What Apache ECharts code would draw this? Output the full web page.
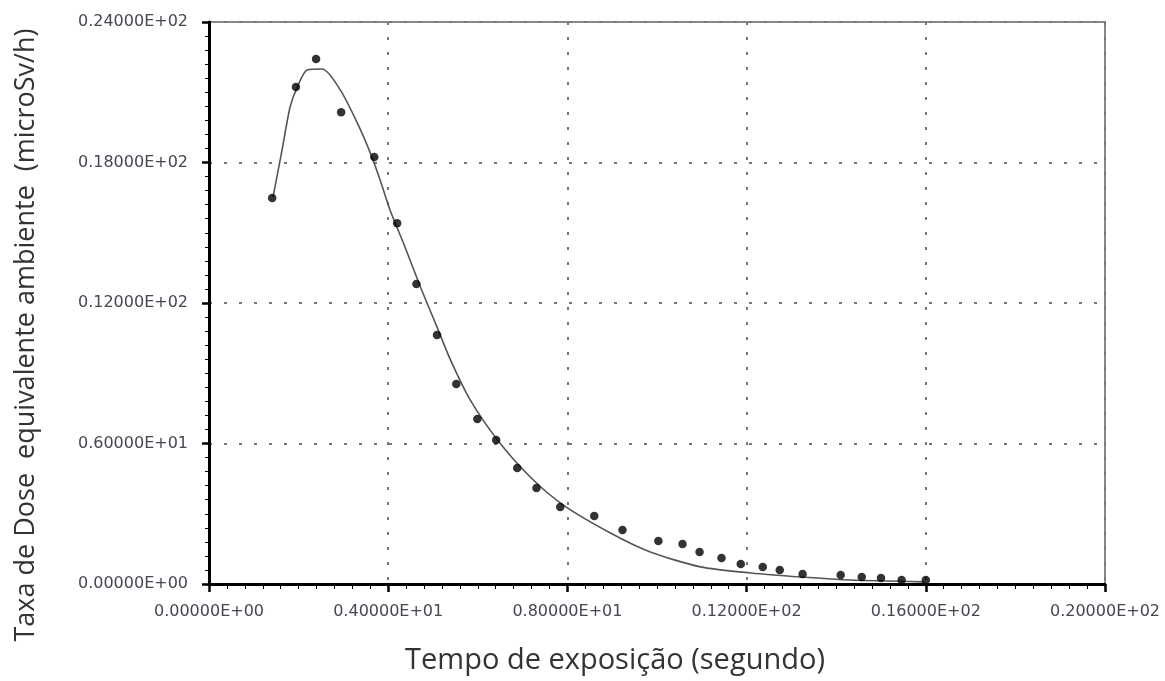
<!DOCTYPE html>
<html>
<head>
<meta charset="utf-8">
<script src="https://cdn.jsdelivr.net/npm/echarts@6/dist/echarts.min.js"></script>
<style>
  html, body { margin: 0; padding: 0; background: #fff; }
  #chart { width: 1165px; height: 681px; }
</style>
</head>
<body>
<div id="chart"></div>
<script>
// pontos medidos
const measTime = [1.41, 1.94, 2.39, 2.95, 3.69, 4.20, 4.63, 5.09, 5.52, 5.99, 6.41, 6.88, 7.31, 7.84,
  8.60, 9.23, 10.03, 10.57, 10.95, 11.44, 11.87, 12.36, 12.74, 13.25, 14.10, 14.57, 15.00, 15.46, 16.00]
const measDose = [16.48, 21.22, 22.42, 20.15, 18.23, 15.41, 12.81, 10.63, 8.54, 7.05, 6.15, 4.95, 4.10, 3.29,
  2.90, 2.31, 1.84, 1.71, 1.37, 1.11, 0.85, 0.73, 0.60, 0.43, 0.38, 0.30, 0.26, 0.17, 0.17]

// curva ajustada
const fitTime = [1.43, 1.63, 1.81, 1.97, 2.19, 2.53, 2.93, 3.31, 3.60, 3.82, 4.04, 4.34, 4.72, 5.09,
  5.39, 5.83, 6.44, 7.17, 7.91, 8.96, 9.85, 10.97, 12.09, 13.21, 14.32, 15.96]
const fitDose = [16.53, 18.53, 20.37, 21.22, 21.95, 21.99, 21.10, 19.69, 18.41, 17.25, 15.97, 14.56, 12.68, 10.97,
  9.57, 7.86, 6.15, 4.57, 3.37, 2.18, 1.37, 0.73, 0.47, 0.30, 0.17, 0.09]

const xName = 'Tempo de exposição (segundo)'
const yName = 'Taxa de Dose  equivalente ambiente  (microSv/h)'

// formato tipo fortran: 0.12000E+02
const fmtE = (v) => {
  if (v === 0) return '0.00000E+00'
  let e = Math.floor(Math.log10(Math.abs(v))) + 1
  let m = v / Math.pow(10, e)
  let s = e >= 0 ? '+' : '-'
  return m.toFixed(5) + 'E' + s + String(Math.abs(e)).padStart(2, '0')
}

const labelStyle = {
  fontFamily: 'DejaVu Sans',
  fontSize: 16,
  color: '#4a4452'
}
const gridLine = {
  show: true,
  lineStyle: { color: '#777', width: 2, type: [3, 12] }
}

let chart = echarts.init(document.getElementById('chart'))
chart.setOption({
  animation: false,
  grid: {
    left: 209, right: 60, top: 22, bottom: 97,
    outerBoundsMode: 'none',
    containLabel: false,
    show: true, borderColor: '#888', borderWidth: 2
  },
  xAxis: {
    type: 'value', min: 0, max: 20, interval: 4,
    name: xName, nameLocation: 'middle', nameGap: 62,
    nameTextStyle: { fontFamily: 'Open Sans', fontSize: 29, color: '#333', padding: [0, 84, 0, 0] },
    axisLine: { onZero: false, lineStyle: { color: '#000', width: 3 } },
    axisTick: { length: 8, lineStyle: { color: '#000', width: 2.5 } },
    minorTick: { show: true, splitNumber: 10, length: 5, lineStyle: { color: '#000', width: 1 } },
    axisLabel: Object.assign({ margin: 20, formatter: fmtE }, labelStyle),
    splitLine: gridLine
  },
  yAxis: {
    type: 'value', min: 0, max: 24, interval: 6,
    name: yName, nameLocation: 'middle', nameGap: 169,
    nameTextStyle: { fontFamily: 'Open Sans', fontSize: 27, color: '#333', padding: [0, 64, 0, 0] },
    axisLine: { onZero: false, lineStyle: { color: '#000', width: 3 } },
    axisTick: { length: 7, lineStyle: { color: '#000', width: 2.5 } },
    minorTick: { show: true, splitNumber: 10, length: 4, lineStyle: { color: '#000', width: 1 } },
    axisLabel: Object.assign({ margin: 21, formatter: fmtE }, labelStyle),
    splitLine: gridLine
  },
  series: [
    {
      type: 'line',
      data: fitTime.map((t, i) => [t, fitDose[i]]),
      showSymbol: false,
      smooth: 0.25,
      lineStyle: { color: '#555', width: 1.6 },
      z: 2
    },
    {
      type: 'scatter',
      data: measTime.map((t, i) => [t, measDose[i]]),
      symbolSize: 8.5,
      itemStyle: { color: '#000' },
      z: 3
    }
  ]
})
</script>
</body>
</html>
